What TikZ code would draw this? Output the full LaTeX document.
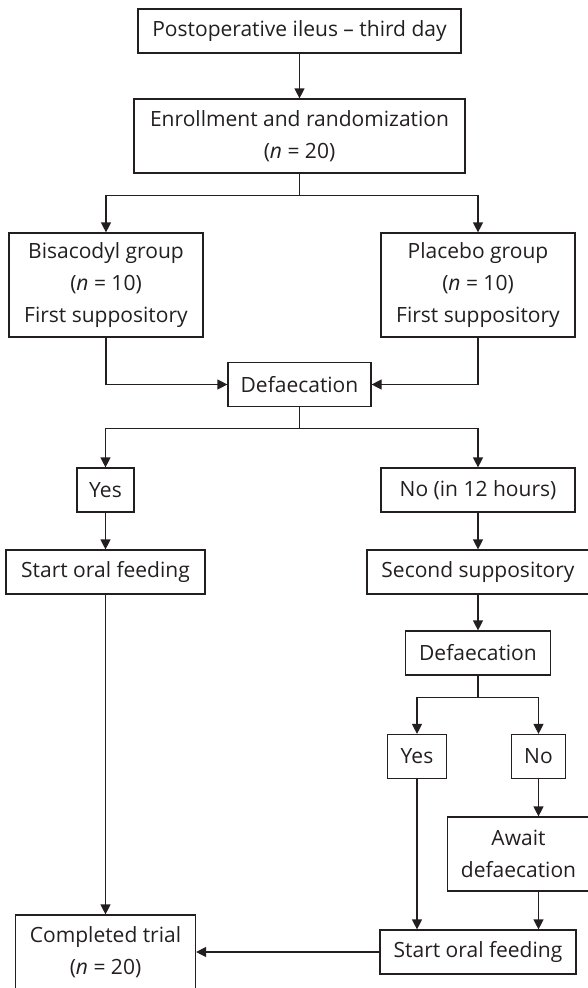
\documentclass[tikz,border=0pt]{standalone}
\usepackage{fontspec}
\setmainfont{Open Sans}[Ligatures=NoCommon]
\usepackage{tikz}
\usetikzlibrary{arrows.meta}

\definecolor{ink}{HTML}{231F20}
\tikzset{box/.style={draw, align=center, inner xsep=4pt, inner ysep=3pt, minimum height=44pt, font=\fontsize{21}{32}\selectfont}}

\begin{document}
\begin{tikzpicture}[>={Triangle[length=10pt,width=10pt]}, x=1pt, y=1pt, line width=1.2pt, color=ink]
\useasboundingbox (0,0) rectangle (587,-988);
\node[box, name=ileus, minimum width=323pt] at (299.5,-31) {Postoperative ileus -- third day};
\node[box, name=enroll, below of=ileus, node distance=105pt, minimum width=331pt, minimum height=74pt]{Enrollment and randomization\\(\textit{n} = 20)};
\node[box, name=bisa, below of=enroll, node distance=149pt, xshift=-193.5pt, minimum width=194pt, minimum height=104pt]{Bisacodyl group\\(\textit{n} = 10)\\First suppository};
\node[box, name=placebo, below of=enroll, node distance=149pt, xshift=178.5pt, minimum width=194pt, minimum height=104pt]{Placebo group\\(\textit{n} = 10)\\First suppository};
\node[box, name=defa, below of=enroll, node distance=248.5pt, minimum width=143pt]{Defaecation};
\node[box, name=yes, below of=defa, node distance=105.5pt, xshift=-194pt, minimum width=57pt]{Yes};
\node[box, name=no, below of=defa, node distance=105.5pt, xshift=178.5pt, minimum width=194pt]{No (in 12 hours)};
\node[box, name=feed, below of=yes, node distance=82pt, minimum width=199pt]{Start oral feeding};
\node[box, name=second, below of=no, node distance=82pt, minimum width=222pt]{Second suppository};
\node[box, name=defb, below of=second, node distance=81pt, minimum width=145pt]{Defaecation};
\node[box, name=yesb, below of=defb, node distance=103.5pt, xshift=-61pt, minimum width=59pt]{Yes};
\node[box, name=nob, below of=defb, node distance=103.5pt, xshift=60.5pt, minimum width=54pt]{No};
\node[box, name=await, below of=nob, node distance=97.5pt, xshift=-20pt, minimum width=142pt, minimum height=74pt]{Await\\defaecation};
\node[box, name=feedb, below of=defb, node distance=299pt, minimum width=196pt]{Start oral feeding};
\node[box, name=done, below of=feed, node distance=380pt, minimum width=180pt, minimum height=74pt]{Completed trial\\(\textit{n} = 20)};

\draw(ileus.south) edge[->](enroll.north);
\draw[->](enroll.south) -- ++(0,-22) -| (bisa.north);
\draw[->](enroll.south) -- ++(0,-22) -| (placebo.north);
\draw[->](bisa.south) |- (defa.west);
\draw[->](placebo.south) |- (defa.east);
\draw[->](defa.south) -- ++(0,-21) -| (yes.north);
\draw[->](defa.south) -- ++(0,-21) -| (no.north);
\draw(yes.south) edge[->](feed.north);
\draw(no.south) edge[->](second.north);
\draw(feed.south) edge[->](done.north);
\draw(second.south) edge[->](defb.north);
\draw[->](defb.south) -- ++(0,-22) -| (yesb.north);
\draw[->](defb.south) -- ++(0,-22) -| (nob.north);
\draw(nob.south) edge[->](nob.south |- await.north);
\draw(yesb.south) edge[->](yesb.south |- feedb.north);
\draw(nob.south |- await.south) edge[->](nob.south |- feedb.north);
\draw(feedb.west) edge[->](done.east);
\end{tikzpicture}
\end{document}
